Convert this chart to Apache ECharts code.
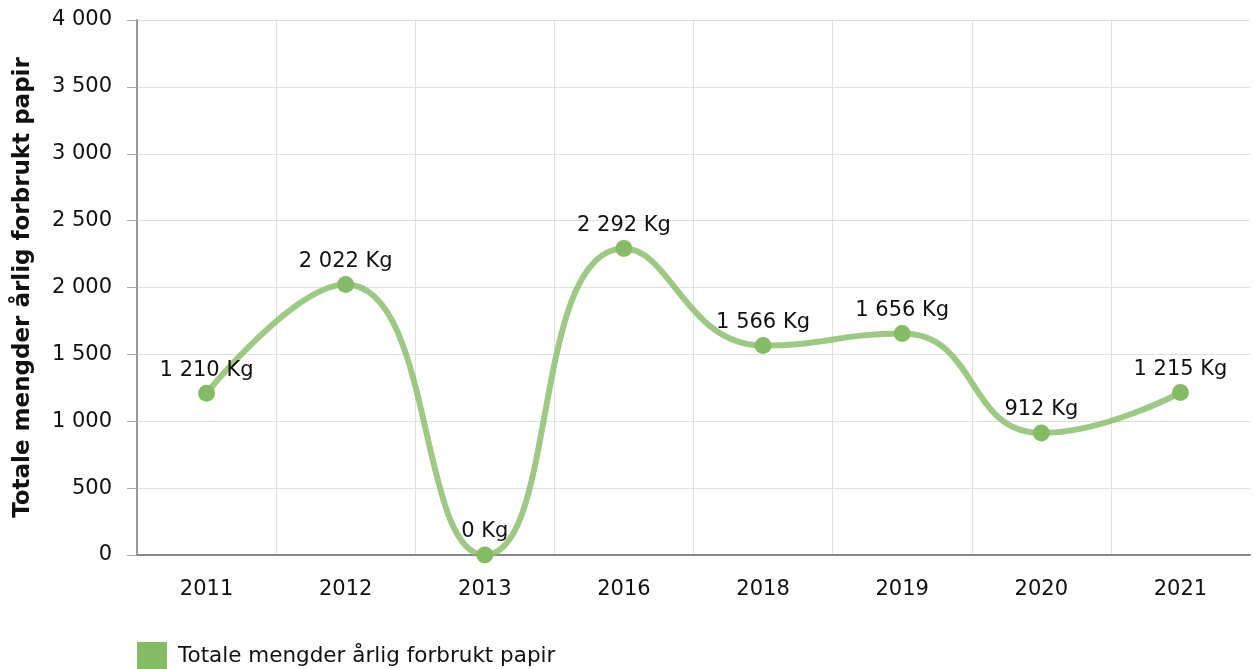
<!DOCTYPE html>
<html><head><meta charset="utf-8">
<script src="https://cdn.jsdelivr.net/npm/echarts@6/dist/echarts.min.js"></script>
<style>html,body{margin:0;padding:0;background:#fff}#c{width:1254px;height:669px}</style>
</head><body><div id="c"></div>
<script>
const categories = ['2011','2012','2013','2016','2018','2019','2020','2021'];
const values = [1210, 2022, 0, 2292, 1566, 1656, 912, 1215];
const seriesName = 'Totale mengder årlig forbrukt papir';
const yAxisTitle = 'Totale mengder årlig forbrukt papir';
const unit = 'Kg';

function fmt(v){ return String(v).replace(/\B(?=(\d{3})+(?!\d))/g, ' '); }

const gridColor = '#e0e0e0';
const vLineColors = categories.map(() => gridColor).concat(['rgba(0,0,0,0)']);

const chart = echarts.init(document.getElementById('c'));
const font = 'DejaVu Sans';
chart.setOption({
  animation:false,
  textStyle:{fontFamily:font},
  grid:{left:137,right:4,top:20,bottom:114,containLabel:false},
  legend:{left:137,top:642,padding:0,itemWidth:30,itemHeight:28,icon:'rect',itemGap:10,
    textStyle:{fontFamily:font,fontSize:21.5,color:'#111',padding:[0,0,0,6]},data:[seriesName]},
  xAxis:{type:'category',data:categories,boundaryGap:true,
    axisLine:{lineStyle:{color:'#888',width:2}},
    axisTick:{alignWithLabel:true,length:6,lineStyle:{color:'#aaa',width:2}},
    axisLabel:{fontFamily:font,fontSize:21,color:'#111',margin:24},
    splitLine:{show:true,lineStyle:{color:vLineColors,width:1}}},
  yAxis:{type:'value',min:0,max:4000,interval:500,
    name:yAxisTitle,nameLocation:'middle',nameGap:102,
    nameTextStyle:{fontFamily:font,fontSize:23,fontWeight:'bold',color:'#111'},
    axisLine:{show:true,lineStyle:{color:'#999',width:2}},
    axisTick:{show:true,length:10,lineStyle:{color:'#aaa',width:1}},
    axisLabel:{fontFamily:font,fontSize:21,color:'#111',margin:25,formatter:v=>fmt(v)},
    splitLine:{show:true,lineStyle:{color:gridColor,width:1}}},
  series:[{name:seriesName,type:'line',data:values,smooth:0.5,
    symbol:'circle',symbolSize:17,
    itemStyle:{color:'#86bb66'},
    lineStyle:{color:'rgba(134,187,102,0.8)',width:6},
    label:{show:true,position:'top',distance:4,fontFamily:font,fontSize:21,color:'#111',
      formatter:p=>fmt(p.value)+' '+unit}}]
});
</script></body></html>
